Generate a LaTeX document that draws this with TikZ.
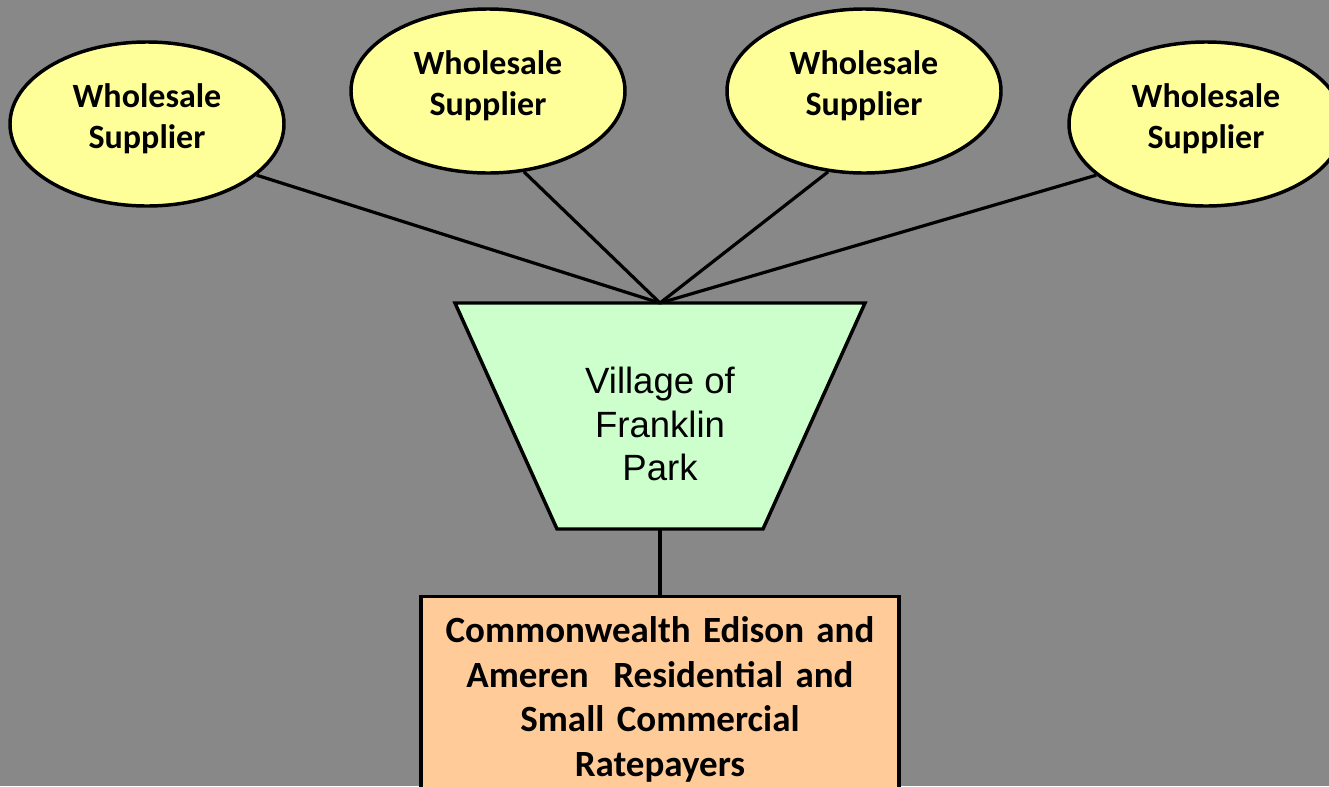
\documentclass[tikz,border=0pt]{standalone}
\usepackage{fontspec}
\setmainfont{Carlito}
\newfontfamily\arialfont{Liberation Sans}
\usetikzlibrary{shapes.geometric}

\definecolor{bggray}{RGB}{136,136,136}
\definecolor{supyellow}{RGB}{255,255,153}
\definecolor{vilgreen}{RGB}{204,255,204}
\definecolor{rateorange}{RGB}{255,204,153}

\tikzset{every picture/.style={line width=2.6pt}}
\tikzset{
  supplier/.style={ellipse, draw, fill=supyellow, minimum width=205.5pt, minimum height=123pt,
    inner sep=0pt, text depth=12pt, align=center, font=\fontsize{25.5}{30.75}\selectfont\bfseries},
  feeder/.style={draw, line width=2.4pt},
}

\begin{document}
\begin{tikzpicture}[x=0.75pt,y=0.75pt,yscale=-1,xscale=1]
		%set diagram left start at 0, and has height of 786
		\useasboundingbox (0,0) rectangle (1329,786);
		\fill [bggray] (0,0) rectangle (1329,786);
		\clip (0,0) rectangle (1329,786);
		
		%Shape: Ellipse [suppliers]
		\node [supplier] (sup1) at (147,124) {Wholesale\\Supplier};
		\node [supplier] (sup2) at (488,91) {Wholesale\\Supplier};
		\node [supplier] (sup3) at (864,91) {Wholesale\\Supplier};
		\node [supplier] (sup4) at (1206,124) {Wholesale\\Supplier};
		
		%Shape: Trapezoid [village]
		\coordinate (fptop) at (660,303);
		\coordinate (fpbot) at (660,529);
		\draw [fill=vilgreen, line join=miter] (455,303) -- (865,303) -- (763,529) -- (557,529) -- cycle ;
		% Text Node
		\node [align=center, inner sep=0.75pt, font=\arialfont\fontsize{27.4}{32.6}\selectfont] (fp) at (660,424) {Village of\\Franklin\\Park};
		
		%Shape: Rectangle [ratepayers]
		\node [draw, fill=rateorange, anchor=north, minimum width=358.5pt, text width=340pt, inner ysep=15pt,
		  align=center, font=\fontsize{27.75}{33.4}\selectfont\bfseries] (rate) at (660,595)
		  {Commonwealth Edison and\\Ameren\ \ Residential and\\Small Commercial\\Ratepayers\\[20pt]};
		
		%Straight Lines [feeders]
		\draw [feeder] (sup1.-25) -- (fptop) ;
		\draw [feeder] (sup2.-66) -- (fptop) ;
		\draw [feeder] (sup3.-114) -- (fptop) ;
		\draw [feeder] (sup4.205) -- (fptop) ;
		\draw [feeder] (fpbot) -- (rate.north) ;
		
	\end{tikzpicture}
\end{document}
